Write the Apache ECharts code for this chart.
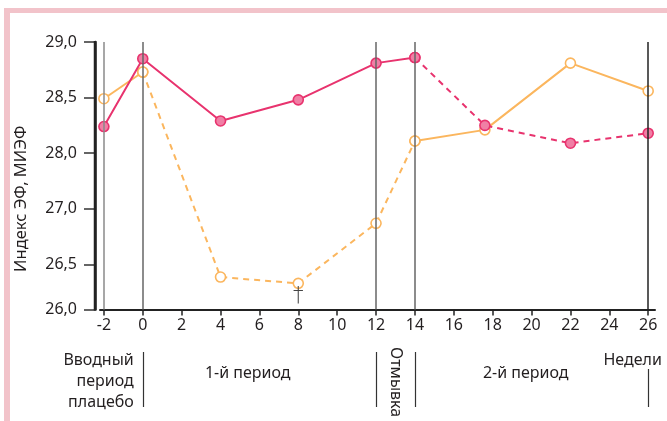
<!DOCTYPE html>
<html><head><meta charset="utf-8">
<script src="https://cdn.jsdelivr.net/npm/echarts@6/dist/echarts.min.js"></script>
<style>html,body{margin:0;padding:0;background:#fff}#c{width:667px;height:421px}</style>
</head><body><div id="c"></div>
<script>
// ---- data ----
const weeks = [-2, 0, 4, 8, 12, 14, 17.6, 22, 26];
const groupPink = [28.24, 28.85, 28.29, 28.48, 28.81, 28.86, 28.25, 28.09, 28.18];
const groupOrange = [28.49, 28.73, 26.36, 26.29, 26.87, 28.11, 28.21, 28.81, 28.56];
const orangeNotes = ['', '', '', '†', '', '', '', '', ''];
const xTickValues = [-2, 0, 2, 4, 6, 8, 10, 12, 14, 16, 18, 20, 22, 24, 26];
const yTickValues = [26.0, 26.5, 27.0, 28.0, 28.5, 29.0];
const yTickLabels = ['26,0', '26,5', '27,0', '28,0', '28,5', '29,0'];
const refWeeks = [-2, 0, 12, 14, 26];
const periodBoundaries = [0, 12, 14, 26];
const periodNames = ['Вводный\nпериод\nплацебо', '1-й период', 'Отмывка', '2-й период', 'Недели'];
const periodAnchors = [0, 5.4, 13, 19.7, 25.2];

// broken (non-uniform) y scale: slot positions of the tick values
const ySlots = [0.19, 1, 2, 3, 4, 5];
function toSlot(v) {
  for (let i = 0; i < yTickValues.length - 1; i++) {
    const a = yTickValues[i], b = yTickValues[i + 1];
    if (v <= b || i === yTickValues.length - 2) {
      return ySlots[i] + (v - a) / (b - a) * (ySlots[i + 1] - ySlots[i]);
    }
  }
}
function slotLabel(s) {
  let best = 0;
  ySlots.forEach((p, i) => { if (Math.abs(p - s) < Math.abs(ySlots[best] - s)) best = i; });
  return yTickLabels[best];
}

const FONT = "'Noto Sans', 'Open Sans', sans-serif";
const TXT = '#231f20';
const PINK = '#e8336e', PINK_FILL = '#f07fa5';
const ORANGE = '#fbb65e';

function seg(vals, from, to, notes) {
  const out = [];
  for (let i = from; i <= to; i++) {
    const item = { value: [weeks[i], toSlot(vals[i])] };
    if (notes && notes[i]) {
      item.label = { show: true, formatter: notes[i], position: 'bottom', distance: -3,
        fontFamily: "'DejaVu Sans', sans-serif", fontSize: 21, fontWeight: 'lighter', color: '#444' };
    }
    out.push(item);
  }
  return out;
}

function lineSeries(data, color, fill, dashed, z) {
  return {
    type: 'line', data, z, animation: false, silent: true,
    symbol: 'circle', symbolSize: 10,
    itemStyle: { color: fill, borderColor: color, borderWidth: 1.6 },
    lineStyle: { color, width: 2, type: dashed ? [6, 5] : 'solid' },
    label: { show: false }
  };
}

const chart = echarts.init(document.getElementById('c'));
chart.setOption({
  backgroundColor: '#fff',
  animation: false,
  grid: { left: 100, right: 12, top: 42, bottom: 111.5 },
  xAxis: {
    type: 'value', min: -2.2, max: 26.35,
    splitLine: { show: false },
    axisLine: { show: true, onZero: false, lineStyle: { color: '#222', width: 2 } },
    axisTick: { show: true, length: 6, lineStyle: { color: '#222', width: 1.5 }, customValues: xTickValues },
    axisLabel: { customValues: xTickValues, margin: 8, fontFamily: FONT, fontSize: 16, color: TXT },
  },
  yAxis: {
    type: 'value', min: ySlots[0], max: ySlots[ySlots.length - 1], offset: 5,
    splitLine: { show: false },
    axisLine: { show: true, onZero: false, lineStyle: { color: '#222', width: 2.5 } },
    axisTick: { show: true, length: 11, lineStyle: { color: '#333', width: 1.5 }, customValues: ySlots },
    axisLabel: { customValues: ySlots, margin: 18, fontFamily: FONT, fontSize: 16, color: TXT,
      formatter: v => slotLabel(v) },
    name: 'Индекс ЭФ, МИЭФ', nameLocation: 'middle', nameRotate: 90, nameGap: 65,
    nameTextStyle: { fontFamily: FONT, fontSize: 16.5, color: TXT, padding: [0, 46, 0, 0] }
  },
  series: [
    {
      type: 'line', data: [], z: 1, silent: true,
      markLine: {
        silent: true, symbol: ['none', 'none'], label: { show: false }, animation: false,
        data: refWeeks.map(w => ({ xAxis: w, lineStyle: {
          color: w === 26 ? '#222' : (w === -2 ? '#8a8a8a' : '#666'), width: 1.5, type: 'solid' } }))
      }
    },
    lineSeries(seg(groupOrange, 0, 1), ORANGE, '#fff', false, 3),
    lineSeries(seg(groupOrange, 1, 5, orangeNotes), ORANGE, '#fff', true, 3),
    lineSeries(seg(groupOrange, 5, 8), ORANGE, '#fff', false, 3),
    lineSeries(seg(groupPink, 0, 5), PINK, PINK_FILL, false, 4),
    lineSeries(seg(groupPink, 5, 8), PINK, PINK_FILL, true, 4)
  ]
});

// frame, y-axis rule and below-axis period annotations, placed through the scales
const px = w => chart.convertToPixel({ xAxisIndex: 0 }, w);
const py = s => chart.convertToPixel({ yAxisIndex: 0 }, s);
const g = [
  { type: 'rect', shape: { x: 4, y: 8, width: 663, height: 5 }, style: { fill: '#f2c3ca' }, silent: true },
  { type: 'rect', shape: { x: 4, y: 8, width: 6, height: 413 }, style: { fill: '#f2c3ca' }, silent: true }
];
const axisX = px(-2.2) - 5;
g.push({ type: 'line', silent: true, z: 10,
  shape: { x1: axisX, y1: py(ySlots[ySlots.length - 1]) - 1, x2: axisX, y2: py(ySlots[0]) + 1 },
  style: { stroke: '#222', lineWidth: 2.5 } });
periodBoundaries.forEach(w => {
  const x = Math.round(px(w)) + 0.5;
  g.push({ type: 'line', silent: true,
    shape: { x1: x, y1: w === 26 ? 369 : 352, x2: x, y2: 407 },
    style: { stroke: '#333', lineWidth: 1.2 } });
});
const font = '16px ' + FONT;
g.push({ type: 'text', silent: true, x: px(periodAnchors[0]) - 9, y: 350,
  style: { text: periodNames[0], font, fill: TXT, align: 'right', verticalAlign: 'top', lineHeight: 21 } });
g.push({ type: 'text', silent: true, x: px(periodAnchors[1]), y: 373,
  style: { text: periodNames[1], font, fill: TXT, align: 'center', verticalAlign: 'middle' } });
g.push({ type: 'text', silent: true, x: px(periodAnchors[2]), y: 347, rotation: -Math.PI / 2,
  style: { text: periodNames[2], font, fill: TXT, align: 'left', verticalAlign: 'middle' } });
g.push({ type: 'text', silent: true, x: px(periodAnchors[3]), y: 373,
  style: { text: periodNames[3], font, fill: TXT, align: 'center', verticalAlign: 'middle' } });
g.push({ type: 'text', silent: true, x: px(periodAnchors[4]), y: 360,
  style: { text: periodNames[4], font, fill: TXT, align: 'center', verticalAlign: 'middle' } });
chart.setOption({ graphic: g });
</script>
</body></html>
